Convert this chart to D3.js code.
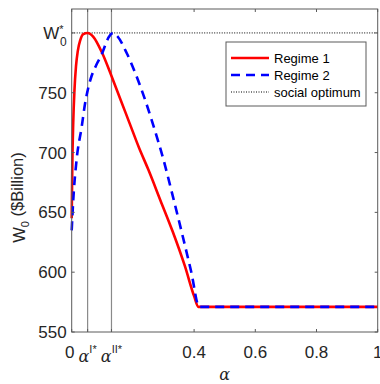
<!DOCTYPE html>
<html><head><meta charset="utf-8">
<script src="https://cdn.jsdelivr.net/npm/d3@7"></script>
<style>
body{margin:0;background:#fff;}
svg{display:block;font-family:"Liberation Sans",Arial,sans-serif;}
</style></head>
<body><svg id="c" width="380" height="384"></svg>
<script>
// Data
const alphaR = [0, 0.002, 0.005, 0.009, 0.014, 0.02, 0.028, 0.038, 0.052, 0.07, 0.1, 0.13, 0.16, 0.19, 0.22, 0.25, 0.29, 0.33, 0.37, 0.40, 0.414, 1];
const regime1 = [645, 690, 725, 752, 772, 785, 794, 799, 800, 797, 783, 764, 744, 724, 704, 686, 660, 634, 605, 580, 571, 571];
const alphaB = [0, 0.005, 0.016, 0.033, 0.043, 0.054, 0.065, 0.08, 0.098, 0.11, 0.12, 0.136, 0.15, 0.18, 0.21, 0.24, 0.27, 0.30, 0.33, 0.36, 0.39, 0.417, 1];
const regime2 = [635, 660, 694, 722, 740, 754, 764, 773, 782, 790, 796, 800, 797, 783, 765, 744, 720, 694, 664, 633, 601, 571, 571];
const socialOptimum = 800;
const alphaStar = [0.052, 0.13];
const yTicks = [550, 600, 650, 700, 750];
const xTicks = [0.4, 0.6, 0.8, 1];

const svg = d3.select("#c");
const L = 71.7, R = 377.7, T = 9, B = 332;
const x = d3.scaleLinear().domain([0, 1]).range([L, R]);
const y = d3.scaleLinear().domain([550, 820]).range([B, T]);
const txt = "#262626";

// vertical alpha* lines
svg.selectAll("line.vs").data(alphaStar).enter().append("line")
  .attr("x1", d => x(d)).attr("x2", d => x(d)).attr("y1", B).attr("y2", T)
  .attr("stroke", "#8a8a8a").attr("stroke-width", 1.2);

// social optimum
svg.append("line").attr("x1", L).attr("x2", R).attr("y1", y(socialOptimum)).attr("y2", y(socialOptimum))
  .attr("stroke", "#000").attr("stroke-width", 1).attr("stroke-dasharray", "1,1.5");

const line = d3.line().curve(d3.curveMonotoneX);
const pts1 = alphaR.map((a, i) => [x(a), y(regime1[i])]);
const pts2 = alphaB.map((a, i) => [x(a), y(regime2[i])]);
svg.append("path").attr("d", line(pts1)).attr("fill", "none").attr("stroke", "#ff0000").attr("stroke-width", 2.6);
svg.append("path").attr("d", line(pts2)).attr("fill", "none").attr("stroke", "#0000ff").attr("stroke-width", 2.6).attr("stroke-dasharray", "9,6");

// axes box
svg.append("rect").attr("x", L).attr("y", T).attr("width", R - L).attr("height", B - T)
  .attr("fill", "none").attr("stroke", "#5a5a5a").attr("stroke-width", 1);

// ticks (inward, mirrored)
const tl = 3;
const yAll = yTicks.concat([socialOptimum]);
yAll.forEach(v => {
  svg.append("line").attr("x1", L).attr("x2", L + tl).attr("y1", y(v)).attr("y2", y(v)).attr("stroke", "#5a5a5a");
  svg.append("line").attr("x1", R - tl).attr("x2", R).attr("y1", y(v)).attr("y2", y(v)).attr("stroke", "#5a5a5a");
});
const xAll = [0].concat(alphaStar, xTicks);
xAll.forEach(v => {
  svg.append("line").attr("x1", x(v)).attr("x2", x(v)).attr("y1", B).attr("y2", B - tl).attr("stroke", "#5a5a5a");
  svg.append("line").attr("x1", x(v)).attr("x2", x(v)).attr("y1", T).attr("y2", T + tl).attr("stroke", "#5a5a5a");
});

const fs = 17;
// y tick labels
svg.selectAll("text.yt").data(yTicks).enter().append("text")
  .attr("x", L - 5).attr("y", d => y(d)).attr("dy", "0.36em")
  .attr("text-anchor", "end").attr("font-size", fs).attr("fill", txt).text(d => d);
// W0* label
const wl = svg.append("text").attr("x", L - 5).attr("y", y(socialOptimum)).attr("dy", "0.36em")
  .attr("text-anchor", "end").attr("font-size", fs).attr("fill", txt);
wl.append("tspan").text("W");
wl.append("tspan").attr("font-size", 11).attr("dy", "-0.55em").text("*");
wl.append("tspan").attr("font-size", 12).attr("dx", "-0.3em").attr("dy", "1.05em").text("0");

// x tick labels
const xl = B + 26;
svg.selectAll("text.xt").data(xTicks).enter().append("text")
  .attr("x", d => x(d)).attr("y", xl).attr("text-anchor", "middle")
  .attr("font-size", fs).attr("fill", txt).text(d => d);
svg.append("text").attr("x", x(0) - 2).attr("y", xl).attr("text-anchor", "middle")
  .attr("font-size", fs).attr("fill", txt).text("0");
const supers = ["I*", "II*"];
alphaStar.forEach((a, i) => {
  const t = svg.append("text").attr("x", x(a)).attr("y", xl + 4).attr("text-anchor", "middle").attr("fill", txt);
  t.append("tspan").attr("font-family", "'DejaVu Serif','Liberation Serif',serif").attr("font-style", "italic").attr("font-size", 16).text("α");
  t.append("tspan").attr("font-size", 11).attr("dy", "-0.85em").text(supers[i]);
});

// axis titles
svg.append("text").attr("x", (L + R) / 2).attr("y", 380).attr("text-anchor", "middle")
  .attr("font-family", "'DejaVu Serif','Liberation Serif',serif").attr("font-style", "italic")
  .attr("font-size", 16).attr("fill", txt).text("α");
const yl = svg.append("text").attr("transform", `translate(25,${(T + B) / 2 + 27}) rotate(-90)`)
  .attr("text-anchor", "middle").attr("font-size", 16.5).attr("fill", txt);
yl.append("tspan").text("W");
yl.append("tspan").attr("font-size", 11).attr("dy", "0.4em").text("0");
yl.append("tspan").attr("dy", "-0.4em").text(" ($Billion)");

// legend
const lg = svg.append("g");
lg.append("rect").attr("x", 226).attr("y", 42).attr("width", 140).attr("height", 64)
  .attr("fill", "#fff").attr("stroke", "#5a5a5a").attr("stroke-width", 1);
const items = [
  {name: "Regime 1", color: "#ff0000", dash: null, w: 2.6},
  {name: "Regime 2", color: "#0000ff", dash: "9,6", w: 2.6},
  {name: "social optimum", color: "#000", dash: "1,1.5", w: 1}
];
items.forEach((it, i) => {
  const yy = 58 + i * 17;
  lg.append("line").attr("x1", 231).attr("x2", 269).attr("y1", yy).attr("y2", yy)
    .attr("stroke", it.color).attr("stroke-width", it.w).attr("stroke-dasharray", it.dash);
  lg.append("text").attr("x", 274).attr("y", yy).attr("dy", "0.36em").attr("font-size", 13)
    .attr("fill", "#000").text(it.name);
});
</script></body></html>
